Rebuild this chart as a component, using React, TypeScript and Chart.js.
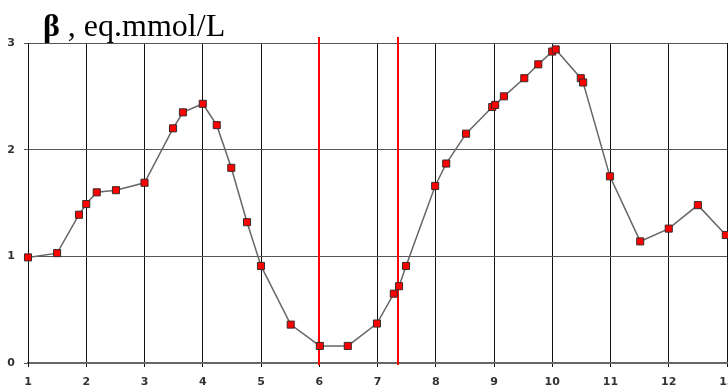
import React, { useEffect, useRef } from "react";
import { Chart, registerables } from "chart.js";

Chart.register(...registerables);

const timeValues = [1.0, 1.5, 1.875, 2.0, 2.18, 2.51, 3.0, 3.49, 3.66, 4.0, 4.24, 4.49, 4.76, 5.0, 5.51, 6.01, 6.49, 6.99, 7.28, 7.37, 7.49, 7.99, 8.18, 8.52, 8.97, 9.02, 9.17, 9.52, 9.76, 10.0, 10.06, 10.49, 10.53, 10.99, 11.51, 12.0, 12.5, 12.98];
const betaValues = [0.99, 1.03, 1.39, 1.49, 1.6, 1.62, 1.69, 2.2, 2.35, 2.43, 2.23, 1.83, 1.32, 0.91, 0.36, 0.16, 0.16, 0.37, 0.65, 0.72, 0.91, 1.66, 1.87, 2.15, 2.4, 2.42, 2.5, 2.67, 2.8, 2.92, 2.94, 2.67, 2.63, 1.75, 1.14, 1.26, 1.48, 1.2];
const markerLines = [6.0, 7.35];
const xTickLabels = ["1", "2", "3", "4", "5", "6", "7", "8", "9", "10", "11", "12", "13"];
const yTickLabels = ["0", "1", "2", "3"];

const markerPlugin = {
  id: "markerLines",
  beforeDatasetsDraw(chart: any) {
    const { ctx, chartArea, scales } = chart;
    ctx.save();
    ctx.strokeStyle = "#ff0000";
    ctx.lineWidth = 2;
    markerLines.forEach((v) => {
      const x = Math.round(scales.x.getPixelForValue(v));
      ctx.beginPath();
      ctx.moveTo(x, chartArea.top - 6);
      ctx.lineTo(x, chartArea.bottom + 2);
      ctx.stroke();
    });
    ctx.restore();
  },
  afterDraw(chart: any) {
    const { ctx, scales, chartArea } = chart;
    ctx.save();
    ctx.fillStyle = "#333";
    ctx.font = "bold 11px 'DejaVu Sans', Verdana, sans-serif";
    ctx.textAlign = "center";
    ctx.textBaseline = "middle";
    xTickLabels.forEach((t) => {
      const x = scales.x.getPixelForValue(Number(t));
      ctx.fillText(t, x, chartArea.bottom + 19);
    });
    yTickLabels.forEach((t) => {
      const y = scales.y.getPixelForValue(Number(t));
      ctx.fillText(t, 11, y);
    });
    ctx.restore();
  },
};

export default function App() {
  const ref = useRef<HTMLCanvasElement | null>(null);
  useEffect(() => {
    if (!ref.current) return;
    const chart = new Chart(ref.current, {
      type: "line",
      data: {
        datasets: [
          {
            data: timeValues.map((x, i) => ({ x, y: betaValues[i] })),
            borderColor: "#666",
            borderWidth: 1.5,
            pointStyle: "rect",
            pointRadius: 5,
            pointBackgroundColor: "#ff0000",
            pointBorderColor: "#3a2a2a",
            pointBorderWidth: 1,
            tension: 0,
            clip: false,
          },
        ],
      },
      options: {
        responsive: false,
        animation: false,
        layout: { autoPadding: false, padding: { left: 24, top: 43, right: 1, bottom: 25 } },
        plugins: { legend: { display: false }, tooltip: { enabled: false } },
        scales: {
          x: {
            type: "linear",
            min: 1,
            max: 13,
            ticks: { display: false, stepSize: 1 },
            grid: { color: "#111", lineWidth: 1, drawTicks: true, tickLength: 4 },
            border: { color: "#666", width: 2 },
          },
          y: {
            type: "linear",
            min: 0,
            max: 3,
            ticks: { display: false, stepSize: 1 },
            grid: { color: "#555", lineWidth: 1, drawTicks: true, tickLength: 4 },
            border: { color: "#111", width: 1 },
          },
        },
      },
      plugins: [markerPlugin],
    });
    return () => chart.destroy();
  }, []);
  return (
    <div style={{ position: "fixed", left: 0, top: 0, width: 728, height: 392, background: "#fff" }}>
      <canvas ref={ref} width={728} height={392} style={{ position: "absolute", left: 0, top: 0 }} />
      <div
        style={{
          position: "absolute",
          left: 43,
          top: 9,
          fontFamily: "'Liberation Serif', 'Times New Roman', serif",
          fontSize: 32,
          lineHeight: "32px",
          color: "#000",
          whiteSpace: "nowrap",
        }}
      >
        <span style={{ fontWeight: "bold" }}>β</span> , eq.mmol/L
      </div>
    </div>
  );
}
